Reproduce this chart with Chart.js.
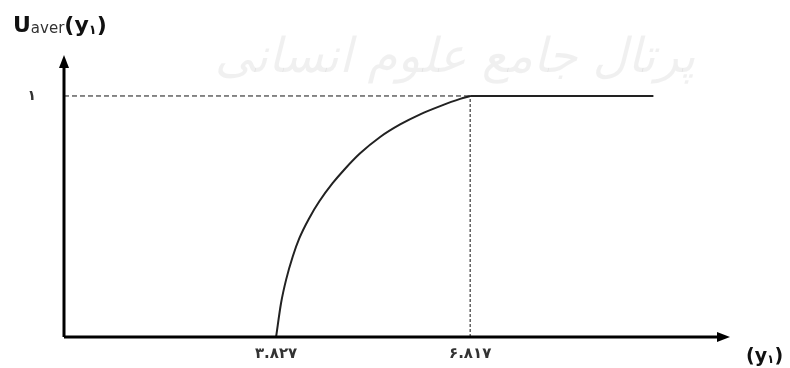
<!DOCTYPE html>
<html>
<head>
<meta charset="utf-8">
<script src="https://cdn.jsdelivr.net/npm/chart.js@4/dist/chart.umd.min.js"></script>
<style>
  html, body { margin: 0; padding: 0; background: #fff; }
  #wrap { width: 790px; height: 368px; position: relative; }
</style>
</head>
<body>
<div id="wrap"><canvas id="chart"></canvas></div>
<script>
// utility curve
const curveX = [3.827, 3.904, 3.981, 4.084, 4.186, 4.340, 4.494, 4.701, 4.880, 5.122, 5.430, 5.738, 6.047, 6.355, 6.663, 6.817];
const curveY = [0, 0.141, 0.237, 0.334, 0.410, 0.494, 0.563, 0.639, 0.695, 0.762, 0.830, 0.882, 0.924, 0.958, 0.988, 1];
const flatX = [6.817, 9.64];
const flatY = [1, 1];

const xTickValues = [3.827, 6.817];
const xTickLabels = ['٣.٨٢٧', '۶.٨١٧'];
const yTickValues = [1];
const yTickLabels = ['١'];

const xMin = 0.56, xMax = 10.82;
const yMin = 0, yMax = 1.17;

const toPoints = (xs, ys) => xs.map((x, i) => ({ x: x, y: ys[i] }));

function arrow(ctx, x, y, dir) {
    ctx.beginPath();
    if (dir === 'up') {
        ctx.moveTo(x, y);
        ctx.lineTo(x - 5, y + 13);
        ctx.lineTo(x + 5, y + 13);
    } else {
        ctx.moveTo(x, y);
        ctx.lineTo(x - 13, y - 5);
        ctx.lineTo(x - 13, y + 5);
    }
    ctx.closePath();
    ctx.fill();
}

// draws pieces of text one after another, returns end x
function drawRun(ctx, parts, x) {
    parts.forEach(p => {
        ctx.font = p.font;
        ctx.fillStyle = p.color || '#111';
        ctx.fillText(p.text, x, p.y);
        x += ctx.measureText(p.text).width;
    });
    return x;
}

const decorPlugin = {
    id: 'decor',
    beforeDatasetsDraw(chart) {
        const ctx = chart.ctx;
        // faint watermark
        ctx.save();
        ctx.fillStyle = 'rgba(0,0,0,0.06)';
        ctx.font = 'italic 48px "DejaVu Sans"';
        ctx.direction = 'rtl';
        ctx.textAlign = 'center';
        ctx.textBaseline = 'middle';
        ctx.fillText('پرتال جامع علوم انسانی', 455, 60);
        ctx.restore();
    },
    afterDatasetsDraw(chart) {
        const ctx = chart.ctx;
        const xs = chart.scales.x, ys = chart.scales.y;
        const x0 = xs.getPixelForValue(xMin);
        const x1 = xs.getPixelForValue(xMax);
        const y0 = ys.getPixelForValue(yMin);
        const y1 = ys.getPixelForValue(yMax);
        ctx.save();
        ctx.strokeStyle = '#000';
        ctx.fillStyle = '#000';
        ctx.lineWidth = 3;
        ctx.beginPath();
        ctx.moveTo(x0, y0);
        ctx.lineTo(x1 - 10, y0);
        ctx.moveTo(x0, y0);
        ctx.lineTo(x0, y1 + 10);
        ctx.stroke();
        arrow(ctx, x1, y0, 'right');
        arrow(ctx, x0, y1, 'up');

        // tick labels
        ctx.fillStyle = '#333';
        ctx.font = 'bold 15px "DejaVu Sans"';
        ctx.textAlign = 'center';
        ctx.textBaseline = 'middle';
        if ('letterSpacing' in ctx) ctx.letterSpacing = '2px';
        xTickValues.forEach((v, i) => {
            ctx.fillText(xTickLabels[i], xs.getPixelForValue(v), y0 + 17);
        });
        if ('letterSpacing' in ctx) ctx.letterSpacing = '0px';
        ctx.textAlign = 'right';
        ctx.font = 'bold 14px "DejaVu Sans"';
        yTickValues.forEach((v, i) => {
            ctx.fillText(yTickLabels[i], x0 - 28, ys.getPixelForValue(v));
        });

        // axis titles
        ctx.textAlign = 'left';
        ctx.textBaseline = 'alphabetic';
        drawRun(ctx, [
            { text: 'U', font: 'bold 22px "DejaVu Sans"', y: 32 },
            { text: 'aver', font: '15px "DejaVu Sans"', y: 33, color: '#333' },
            { text: '(y', font: 'bold 22px "DejaVu Sans"', y: 32 },
            { text: '١', font: 'bold 13px "DejaVu Sans"', y: 34 },
            { text: ')', font: 'bold 22px "DejaVu Sans"', y: 32 }
        ], 13);
        drawRun(ctx, [
            { text: '(y', font: 'bold 19px "DejaVu Sans"', y: 362 },
            { text: '١', font: 'bold 12px "DejaVu Sans"', y: 363 },
            { text: ')', font: 'bold 19px "DejaVu Sans"', y: 362 }
        ], 746);
        ctx.restore();
    }
};

function setup() {
    new Chart(document.getElementById('chart'), {
        type: 'line',
        data: {
            datasets: [
                {
                    data: toPoints([xMin, flatX[0]], [1, 1]),
                    borderColor: '#111',
                    borderWidth: 1,
                    borderDash: [5, 3],
                    pointRadius: 0
                },
                {
                    data: toPoints([flatX[0], flatX[0]], [0, 1]),
                    borderColor: '#111',
                    borderWidth: 1,
                    borderDash: [3, 2],
                    pointRadius: 0
                },
                {
                    data: toPoints(curveX, curveY),
                    borderColor: '#222',
                    borderWidth: 2,
                    pointRadius: 0,
                    cubicInterpolationMode: 'monotone'
                },
                {
                    data: toPoints(flatX, flatY),
                    borderColor: '#222',
                    borderWidth: 2,
                    pointRadius: 0
                }
            ]
        },
        options: {
            responsive: true,
            maintainAspectRatio: false,
            animation: false,
            layout: { padding: { left: 64, right: 60, top: 55, bottom: 31 } },
            plugins: { legend: { display: false }, tooltip: { enabled: false } },
            scales: {
                x: { type: 'linear', min: xMin, max: xMax, display: false },
                y: { type: 'linear', min: yMin, max: yMax, display: false }
            }
        },
        plugins: [decorPlugin]
    });
}

window.onload = setup;
</script>
</body>
</html>
